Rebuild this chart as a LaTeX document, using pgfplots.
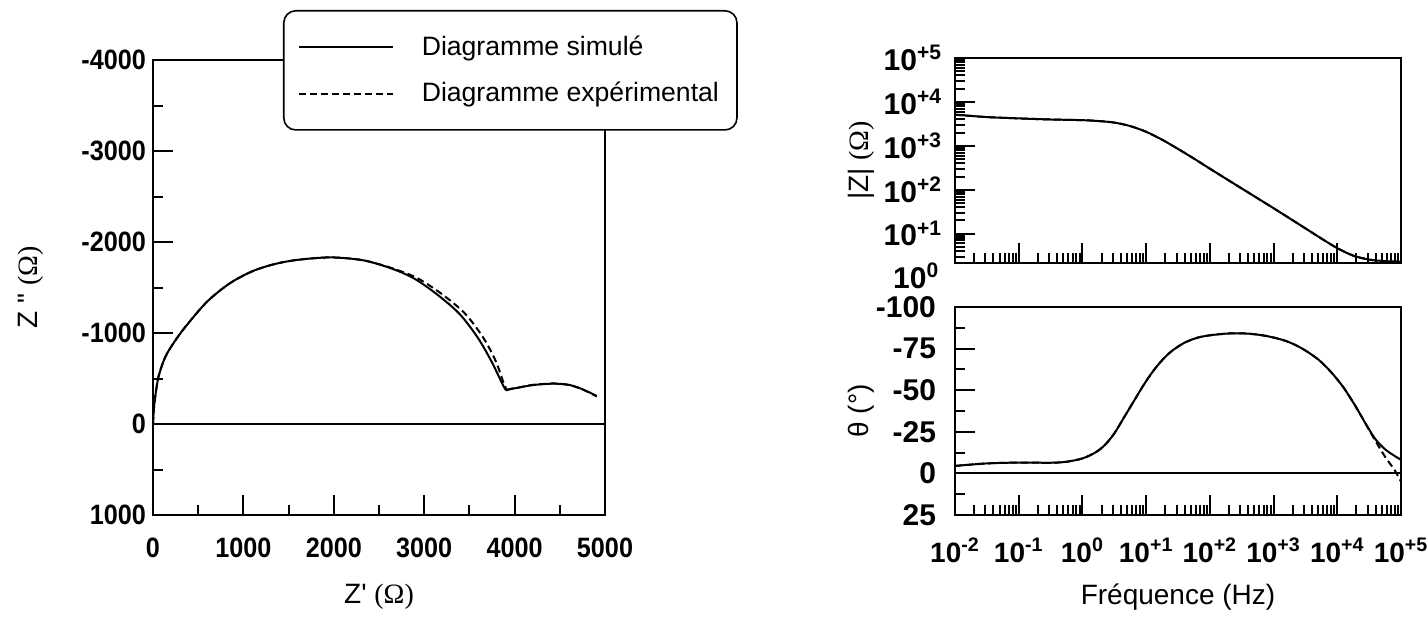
\documentclass[border=0pt]{standalone}
\usepackage{fontspec}
\setmainfont{Liberation Sans}
\newfontfamily\seriffont{Liberation Serif}
\usepackage{pgfplots}
\pgfplotsset{compat=1.18}
\newcommand{\tl}[1]{10\textsuperscript{#1}}
\newcommand{\nx}[1]{\scalebox{0.9}[1]{#1}}
\newcommand{\sq}{\XeTeXglyph\XeTeXcharglyph"27\relax}
\newcommand{\dq}{\XeTeXglyph\XeTeXcharglyph"22\relax}
\pgfplotsset{
  myax/.style={
    scale only axis,
    axis line style={line width=1.3pt},
    tick align=inside,
    xtick pos=bottom, ytick pos=left,
    major tick length=10pt, minor tick length=5pt,
    tick style={line width=1pt, black},
    ticklabel style={font=\fontsize{14}{16}\selectfont\bfseries},
    label style={font=\fontsize{14}{16}\selectfont},
    xticklabel style={yshift=-8pt},
  },
  sim/.style={black, line width=1pt, no marks, smooth, tension=0.5},
  expe/.style={black, line width=1pt, no marks, smooth, tension=0.5, dash pattern=on 3.5pt off 2pt},
  logminx/.style={minor xtick={0.02,0.03,0.04,0.05,0.06,0.07,0.08,0.09,0.2,0.3,0.4,0.5,0.6,0.7,0.8,0.9,
    2,3,4,5,6,7,8,9,20,30,40,50,60,70,80,90,200,300,400,500,600,700,800,900,
    2000,3000,4000,5000,6000,7000,8000,9000,20000,30000,40000,50000,60000,70000,80000,90000}},
}
\begin{document}
\begin{tikzpicture}
\useasboundingbox (0pt,0pt) rectangle (714pt,309pt);

% ---------------- Nyquist ----------------
\begin{axis}[myax,
  at={(189.5pt,165.25pt)}, anchor=center, width=226pt, height=227.5pt,
  xmin=0, xmax=5000, ymin=-4000, ymax=1000, y dir=reverse,
  xtick={0,1000,2000,3000,4000,5000},
  xticklabels={\nx{0},\nx{1000},\nx{2000},\nx{3000},\nx{4000},\nx{5000}},
  minor xtick={500,1500,2500,3500,4500},
  ytick={-4000,-3000,-2000,-1000,0,1000},
  yticklabels={\nx{-4000},\nx{-3000},\nx{-2000},\nx{-1000},\nx{0},\nx{1000}},
  minor ytick={-3500,-2500,-1500,-500,500},
  xlabel={Z\sq\ {\seriffont(Ω)}}, ylabel={Z \dq\ {\seriffont(Ω)}},
  xlabel style={at={(axis description cs:0.5,-0.18)}, anchor=center},
  ylabel style={at={(axis description cs:-0.27,0.5)}, anchor=center},
  legend cell align=left,
  legend image code/.code={\draw[#1, line width=1pt] (0pt,0pt) -- (47pt,0pt);},
  legend style={at={(axis description cs:0.2876,1.11)}, anchor=north west,
    draw=black, line width=0.8pt, rounded corners=6pt, fill=white,
    font=\fontsize{13.3}{15}\selectfont, inner xsep=7pt, inner ysep=10.5pt,
    row sep=8pt, /tikz/every odd column/.append style={column sep=12pt}},
]
\addplot[black, line width=1pt, forget plot] coordinates {(0,0) (5000,0)};
\addplot[sim] coordinates {
(0,0) (10,-170) (30,-340) (61,-520) (120,-700) (188,-830) (340,-1045)
(594,-1340) (848,-1545) (1102,-1680) (1355,-1760) (1609,-1805) (1964,-1831)
(2320,-1800) (2624,-1714) (2878,-1605) (3132,-1432) (3386,-1215) (3589,-954)
(3741,-694) (3868,-434) (3905,-370)};
\addlegendentry{Diagramme simulé}
\addplot[sim, forget plot] coordinates {
(3905,-370) (3960,-385) (4046,-400) (4200,-428) (4401,-443) (4500,-441)
(4604,-430) (4700,-402) (4800,-360) (4909,-308)};
\addplot[expe] coordinates {
(0,0) (10,-170) (30,-340) (61,-520) (120,-700) (188,-830) (340,-1045)
(594,-1340) (848,-1545) (1102,-1680) (1355,-1760) (1609,-1805) (1964,-1831)
(2320,-1800) (2640,-1714) (2920,-1605) (3190,-1432) (3450,-1215) (3650,-954)
(3790,-694) (3885,-434) (3915,-375)};
\addlegendentry{Diagramme expérimental}
\addplot[expe, forget plot] coordinates {
(3915,-375) (3965,-388) (4046,-402) (4200,-430) (4401,-445) (4500,-442)
(4604,-428) (4700,-400) (4800,-358) (4909,-302)};
\end{axis}

% ---------------- |Z| ----------------
\begin{axis}[myax, logminx,
  at={(589pt,228.75pt)}, anchor=center, width=223pt, height=102.5pt,
  xmode=log, ymode=log, xmin=0.01, xmax=100000, ymin=2.15, ymax=100000,
  yticklabel style={font=\fontsize{15}{17}\selectfont\bfseries, xshift=-3pt},
  xtick={0.01,0.1,1,10,100,1000,10000,100000}, xticklabels={},
  ytick={10,100,1000,10000,100000},
  yticklabels={\tl{+1},\tl{+2},\tl{+3},\tl{+4},\tl{+5}},
  minor ytick={3,4,5,6,7,8,9,20,30,40,50,60,70,80,90,200,300,400,500,600,700,800,900,
    2000,3000,4000,5000,6000,7000,8000,9000,20000,30000,40000,50000,60000,70000,80000,90000},
  ylabel={|Z| {\seriffont(Ω)}},
  ylabel style={at={(axis description cs:-0.21,0.5)}, anchor=center},
]
\addplot[sim] coordinates {
(0.01,5129) (0.0316,4519) (0.1,4217) (0.316,3981) (1,3846) (1.778,3673) (3.162,3388)
(5.623,2818) (10,2089) (17.78,1380) (31.62,851) (56.23,513) (100,302) (316.2,107)
(1000,38.0) (3162,13.2) (5623,7.76) (10000,4.68) (17783,3.16) (31623,2.57)
(56234,2.37) (100000,2.29)};
\addplot[expe] coordinates {
(0.01,5129) (0.0316,4519) (0.1,4217) (0.316,3981) (1,3846) (1.778,3673) (3.162,3388)
(5.623,2818) (10,2089) (17.78,1380) (31.62,851) (56.23,513) (100,302) (316.2,107)
(1000,38.0) (3162,13.2) (5623,7.76) (10000,4.68) (17783,3.16) (31623,2.57)
(56234,2.37) (100000,2.29)};
\end{axis}
\node[anchor=east, font=\fontsize{15}{17}\selectfont\bfseries, inner sep=0pt] at (469.8pt,171pt) {\tl{0}};

% ---------------- phase ----------------
\begin{axis}[myax, logminx,
  at={(589pt,103.5pt)}, anchor=center, width=223pt, height=104pt,
  xmode=log, xmin=0.01, xmax=100000, ymin=-100, ymax=25, y dir=reverse,
  yticklabel style={font=\fontsize{15}{17}\selectfont\bfseries, xshift=-6pt},
  xtick={0.01,0.1,1,10,100,1000,10000,100000},
  xticklabels={\tl{-2},\tl{-1},\tl{0},\tl{+1},\tl{+2},\tl{+3},\tl{+4},\tl{+5}},
  ytick={-100,-75,-50,-25,0,25}, yticklabels={-100,-75,-50,-25,0,25},
  minor ytick={-87.5,-62.5,-37.5,-12.5,12.5},
  xlabel={Fréquence (Hz)}, ylabel={θ (°)},
  xlabel style={at={(axis description cs:0.5,-0.394)}, anchor=center},
  ylabel style={at={(axis description cs:-0.21,0.5)}, anchor=center},
]
\addplot[black, line width=1pt] coordinates {(0.01,0) (100000,0)};
\addplot[sim] coordinates {
(0.01,-4.5) (0.0316,-6.0) (0.1,-6.5) (0.316,-6.4) (0.562,-7.0) (1,-9.0)
(1.585,-12.5) (2.239,-17) (3.162,-24) (4.467,-33.5) (6.31,-43) (8.913,-52.5)
(12.59,-61) (17.78,-68) (25.12,-73.5) (39.81,-78.5) (63.1,-81.5) (100,-83)
(199.5,-84.1) (398.1,-84) (794.3,-82.5) (1585,-79.5) (2818,-75) (5012,-68.5)
(7943,-61) (12589,-51.5) (19953,-39.5) (28184,-29.5) (39811,-20.5)
(56234,-14.5) (79433,-10.5) (100000,-8.2)};
\addplot[expe] coordinates {
(0.01,-4.5) (0.0316,-6.0) (0.1,-6.5) (0.316,-6.4) (0.562,-7.0) (1,-9.0)
(1.585,-12.5) (2.239,-17) (3.162,-24) (4.467,-33.5) (6.31,-43) (8.913,-52.5)
(12.59,-61) (17.78,-68) (25.12,-73.5) (39.81,-78.5) (63.1,-81.5) (100,-83)
(199.5,-84.1) (398.1,-84) (794.3,-82.5) (1585,-79.5) (2818,-75) (5012,-68.5)
(7943,-61) (12589,-51.5) (19953,-39.5) (28184,-29.5) (39811,-19.5)
(56234,-10) (79433,-2) (100000,5)};
\end{axis}
\end{tikzpicture}
\end{document}
